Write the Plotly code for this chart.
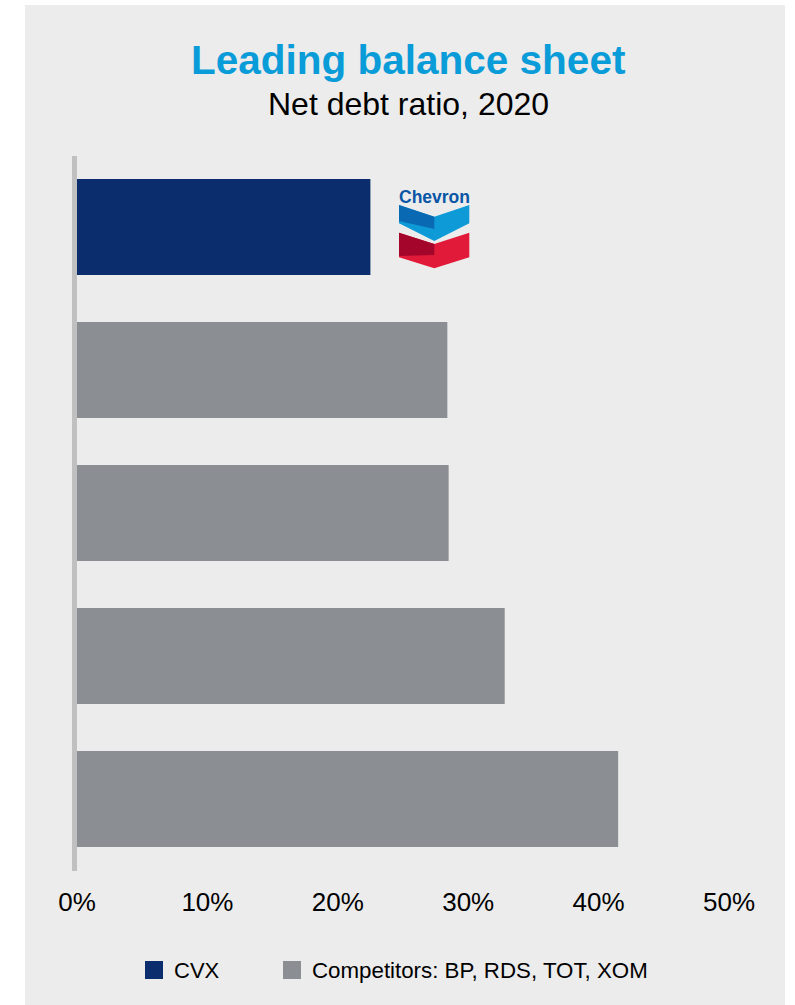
import plotly.graph_objects as go

# Net debt ratio, 2020 (%)
cvx_label = ["CVX"]
cvx_values = [22.5]
peer_labels = ["Peer 1", "Peer 2", "Peer 3", "Peer 4"]
peer_values = [28.4, 28.5, 32.8, 41.5]
tick_values = [0, 10, 20, 30, 40, 50]
tick_text = ["0%", "10%", "20%", "30%", "40%", "50%"]

NAVY = "#0b2d6e"
GREY = "#8b8e92"
PANEL = "#ececec"
TITLE_BLUE = "#0a9cd8"
FONT = "Liberation Sans, Arial, sans-serif"

W, H = 795, 1005


def px(x):
    return x / W


def py(y):
    return 1 - y / H


order = cvx_label + peer_labels

fig = go.Figure()
fig.add_trace(go.Bar(y=cvx_label, x=cvx_values, orientation="h",
                     marker=dict(color=NAVY, line=dict(width=0)),
                     name="CVX", showlegend=False, hoverinfo="x+y"))
fig.add_trace(go.Bar(y=peer_labels, x=peer_values, orientation="h",
                     marker=dict(color=GREY, line=dict(width=0)),
                     name="Competitors: BP, RDS, TOT, XOM", showlegend=False,
                     hoverinfo="x+y"))

shapes = []
# grey panel behind the chart
shapes.append(dict(type="rect", xref="paper", yref="paper",
                   x0=px(25), x1=px(785), y0=py(1005), y1=py(5),
                   fillcolor=PANEL, line=dict(width=0), layer="below"))


def poly(points, color):
    path = "M " + " L ".join(f"{px(a):.5f},{py(b):.5f}" for a, b in points) + " Z"
    return dict(type="path", xref="paper", yref="paper", path=path,
                fillcolor=color, line=dict(width=0), layer="above")


# Chevron emblem
shapes.append(poly([(399, 205), (434.3, 216.7), (469.3, 205), (469.3, 223.3),
                    (434.3, 241), (399, 223.3)], "#0e9ad7"))
shapes.append(poly([(399, 205), (434.3, 216.7), (434.3, 229), (399, 221)], "#0a69b3"))
shapes.append(poly([(399, 232.7), (434.3, 244), (469.3, 232.7), (469.3, 257.3),
                    (434.3, 268.3), (399, 257.3)], "#e21a3a"))
shapes.append(poly([(399, 232.7), (434.3, 244), (434.3, 255), (399, 256)], "#a3062a"))

# legend swatches
shapes.append(dict(type="rect", xref="paper", yref="paper",
                   x0=px(145), x1=px(163), y0=py(979), y1=py(961),
                   fillcolor=NAVY, line=dict(width=0)))
shapes.append(dict(type="rect", xref="paper", yref="paper",
                   x0=px(283), x1=px(301), y0=py(979), y1=py(961),
                   fillcolor=GREY, line=dict(width=0)))

annotations = [
    dict(text="<b>Leading balance sheet</b>", x=px(408), y=py(60), xref="paper", yref="paper",
         showarrow=False, xanchor="center", yanchor="middle",
         font=dict(family=FONT, size=40.5, color=TITLE_BLUE)),
    dict(text="Net debt ratio, 2020", x=px(408), y=py(104), xref="paper", yref="paper",
         showarrow=False, xanchor="center", yanchor="middle",
         font=dict(family=FONT, size=32, color="#000000")),
    dict(text="<b>Chevron</b>", x=px(434), y=py(197), xref="paper", yref="paper",
         showarrow=False, xanchor="center", yanchor="middle",
         font=dict(family=FONT, size=17.5, color="#0a56a6")),
    dict(text="CVX", x=px(172), y=py(970), xref="paper", yref="paper",
         showarrow=False, xanchor="left", yanchor="middle",
         font=dict(family=FONT, size=22, color="#000000")),
    dict(text="Competitors: BP, RDS, TOT, XOM", x=px(310), y=py(970), xref="paper", yref="paper",
         showarrow=False, xanchor="left", yanchor="middle",
         font=dict(family=FONT, size=22.3, color="#000000")),
]

fig.update_layout(
    width=W, height=H,
    margin=dict(l=0, r=0, t=0, b=0, pad=0, autoexpand=False),
    paper_bgcolor="#ffffff",
    plot_bgcolor="rgba(0,0,0,0)",
    barmode="overlay",
    bargap=0.33,
    showlegend=False,
    shapes=shapes,
    annotations=annotations,
    xaxis=dict(domain=[px(77), px(729)], range=[0, 50], tickvals=tick_values,
               ticktext=tick_text, showgrid=False, zeroline=False, showline=False,
               ticks="", ticklabelstandoff=13, fixedrange=True, automargin=False,
               tickfont=dict(family=FONT, size=26, color="#000000")),
    yaxis=dict(domain=[py(870.5), py(155.5)], categoryorder="array",
               categoryarray=order, autorange="reversed", showticklabels=False,
               showgrid=False, zeroline=False, showline=True, linewidth=5,
               linecolor="#c0c0c0", ticks="", fixedrange=True, automargin=False),
)

fig.write_html("out.html")
